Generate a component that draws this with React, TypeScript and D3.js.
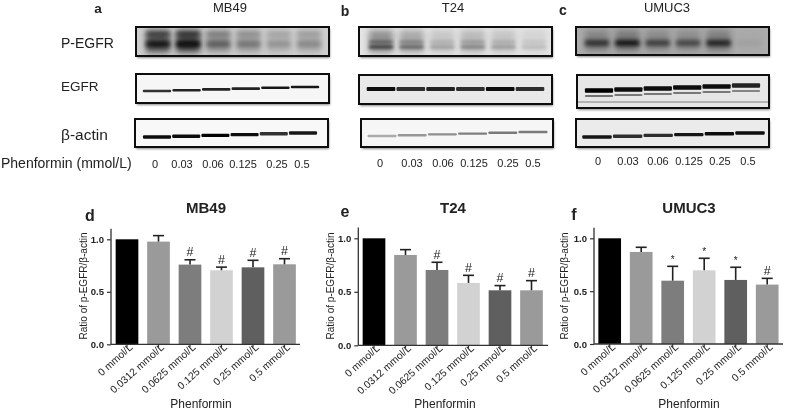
import { useEffect, useRef } from "react";
import * as d3 from "d3";

const FONT = "'Liberation Sans', Arial, sans-serif";

// bar chart values
const doses = ["0 mmol/L", "0.0312 mmol/L", "0.0625 mmol/L", "0.125 mmol/L", "0.25 mmol/L", "0.5 mmol/L"];
const barColors = ["#000000", "#9a9a9a", "#7d7d7d", "#d2d2d2", "#5f5f5f", "#9a9a9a"];

const mb49Means = [1.0, 0.978, 0.759, 0.705, 0.733, 0.762];
const mb49Tops = [1.0, 1.035, 0.805, 0.735, 0.8, 0.815];
const mb49Marks = ["", "", "#", "#", "#", "#"];

const t24Means = [1.0, 0.844, 0.704, 0.583, 0.514, 0.514];
const t24Tops = [1.0, 0.894, 0.776, 0.654, 0.558, 0.604];
const t24Marks = ["", "", "#", "#", "#", "#"];

const umucMeans = [1.0, 0.871, 0.599, 0.697, 0.606, 0.562];
const umucTops = [1.0, 0.915, 0.735, 0.811, 0.726, 0.621];
const umucMarks = ["", "", "*", "*", "*", "#"];

// blot band strength per lane, 0..1
const laneLabels = ["0", "0.03", "0.06", "0.125", "0.25", "0.5"];
const mb49Phospho = [0.85, 0.95, 0.42, 0.32, 0.2, 0.24];
const mb49Egfr = [0.8, 0.85, 0.85, 0.85, 0.9, 0.9];
const mb49Actin = [0.95, 0.95, 1.0, 0.95, 0.8, 0.9];
const t24Phospho = [0.7, 0.5, 0.25, 0.36, 0.26, 0.14];
const t24Egfr = [0.95, 0.8, 0.85, 0.8, 0.95, 0.8];
const t24Actin = [0.3, 0.38, 0.42, 0.48, 0.5, 0.5];
const umucPhospho = [0.7, 0.9, 0.6, 0.55, 0.8, 0.05];
const umucEgfr = [1.0, 0.95, 0.95, 0.95, 0.95, 0.85];
const umucActin = [0.9, 0.8, 0.8, 0.9, 0.95, 0.95];

type Row = { dy: number; h: number; k: number };
type Blot = {
  x0: number; x1: number; y0: number; y1: number; bg: string; values: number[];
  lanes: [number, number]; rise: number; rows: Row[]; smear?: number; blur: string; scratch?: number;
};

const blots: Blot[] = [
  { x0: 136, x1: 329, y0: 27, y1: 56, bg: "#cfcfcf", values: mb49Phospho, lanes: [158, 309], rise: 0, smear: 0.75, blur: "blurWide",
    rows: [{ dy: 7, h: 5, k: 0.5 }, { dy: 17, h: 7, k: 0.9 }] },
  { x0: 136, x1: 329, y0: 74, y1: 103, bg: "#f6f6f6", values: mb49Egfr, lanes: [157, 305], rise: 4, blur: "blurThin",
    rows: [{ dy: 17, h: 2.6, k: 1 }] },
  { x0: 135, x1: 328, y0: 119, y1: 147, bg: "#f8f8f8", values: mb49Actin, lanes: [157, 303], rise: 4, blur: "blurThin",
    rows: [{ dy: 18, h: 3.4, k: 1 }] },
  { x0: 359, x1: 552, y0: 27, y1: 56, bg: "#e4e4e4", values: t24Phospho, lanes: [381, 534], rise: 0, smear: 0.6, blur: "blurMid",
    rows: [{ dy: 15, h: 3, k: 0.55 }, { dy: 20, h: 4, k: 0.75 }] },
  { x0: 359, x1: 552, y0: 75, y1: 104, bg: "#e9e9e9", values: t24Egfr, lanes: [381, 530], rise: 0, blur: "blurThin",
    rows: [{ dy: 14, h: 4, k: 1 }] },
  { x0: 361, x1: 553, y0: 119, y1: 147, bg: "#f6f6f6", values: t24Actin, lanes: [382, 533], rise: 4, blur: "blurThin",
    rows: [{ dy: 17, h: 2.4, k: 1 }] },
  { x0: 576, x1: 769, y0: 27, y1: 55, bg: "#acacac", values: umucPhospho, lanes: [597, 749], rise: 0, smear: 0.4, blur: "blurWide",
    rows: [{ dy: 16, h: 6, k: 0.95 }] },
  { x0: 577, x1: 769, y0: 75, y1: 108, bg: "#e6e6e6", values: umucEgfr, lanes: [599, 746], rise: 5, blur: "blurThin", scratch: 27,
    rows: [{ dy: 15.5, h: 4.5, k: 1 }, { dy: 21, h: 2.2, k: 0.5 }] },
  { x0: 576, x1: 769, y0: 119, y1: 147, bg: "#ebebeb", values: umucActin, lanes: [597, 750], rise: 4, blur: "blurThin",
    rows: [{ dy: 18, h: 3.4, k: 1 }] },
];

const panelTexts = [
  { t: "a", x: 98, y: 12.5, size: 13.5, bold: true, anchor: "middle" },
  { t: "b", x: 345, y: 16, size: 14, bold: true, anchor: "middle" },
  { t: "c", x: 563, y: 15, size: 14, bold: true, anchor: "middle" },
  { t: "MB49", x: 230, y: 12, size: 13, anchor: "middle" },
  { t: "T24", x: 453, y: 12, size: 13, anchor: "middle" },
  { t: "UMUC3", x: 667, y: 12, size: 13, anchor: "middle" },
  { t: "P-EGFR", x: 61, y: 48, size: 14, anchor: "start" },
  { t: "EGFR", x: 61, y: 91, size: 13.5, anchor: "start" },
  { t: "β-actin", x: 61, y: 140, size: 15.5, anchor: "start" },
  { t: "Phenformin (mmol/L)", x: 1, y: 168, size: 14, anchor: "start" },
];

const laneText = [
  { y: 168, xs: [155, 182, 213, 243, 277, 302] },
  { y: 167, xs: [380, 412, 443, 474, 508, 533] },
  { y: 165, xs: [598, 628, 658, 689, 720, 748] },
];

const charts = [
  { title: "MB49", letter: "d", means: mb49Means, tops: mb49Tops, marks: mb49Marks, axisX: 111, endX: 300, y0: 344.3, y1: 239.3, first: 127, titleX: 206, letterX: 90, letterY: 221, labelX: 87, nameX: 201 },
  { title: "T24", letter: "e", means: t24Means, tops: t24Tops, marks: t24Marks, axisX: 358.3, endX: 548, y0: 345.3, y1: 238.3, first: 374, titleX: 453, letterX: 345, letterY: 217, labelX: 334, nameX: 445 },
  { title: "UMUC3", letter: "f", means: umucMeans, tops: umucTops, marks: umucMarks, axisX: 594, endX: 783, y0: 344, y1: 238.3, first: 609.7, titleX: 689, letterX: 574, letterY: 220, labelX: 568, nameX: 689 },
];

const App = () => {
  const ref = useRef<SVGSVGElement>(null);

  useEffect(() => {
    const root = d3.select(ref.current).html("");
    const defs = root.append("defs");
    [["blurThin", 0.7], ["blurMid", 1.5], ["blurWide", 2], ["smear", 3], ["shadow", 1.2]].forEach(([id, sd]) => {
      defs.append("filter").attr("id", id as string)
        .attr("x", "-30%").attr("y", "-100%").attr("width", "160%").attr("height", "300%")
        .append("feGaussianBlur").attr("stdDeviation", sd as number);
    });
    // the source is a soft jpeg, so everything gets a slight blur
    defs.append("filter").attr("id", "page")
      .attr("filterUnits", "userSpaceOnUse").attr("x", 0).attr("y", 0).attr("width", 785).attr("height", 411)
      .append("feGaussianBlur").attr("stdDeviation", 0.3);
    const svg = root.append("g").attr("filter", "url(#page)");

    // western blot strips
    const strength = d3.scaleLinear().domain([0, 1]).range([0, 1]);
    blots.forEach((b, i) => {
      defs.append("clipPath").attr("id", `clip${i}`).append("rect")
        .attr("x", b.x0).attr("y", b.y0).attr("width", b.x1 - b.x0).attr("height", b.y1 - b.y0);
      svg.append("rect").attr("x", b.x0 + 1).attr("y", b.y0 + 2)
        .attr("width", b.x1 - b.x0).attr("height", b.y1 - b.y0)
        .attr("fill", "#888").attr("filter", "url(#shadow)");
      svg.append("rect").attr("x", b.x0).attr("y", b.y0)
        .attr("width", b.x1 - b.x0).attr("height", b.y1 - b.y0).attr("fill", b.bg);

      const g = svg.append("g").attr("clip-path", `url(#clip${i})`);
      const laneX = d3.scalePoint().domain(laneLabels).range(b.lanes);
      const laneW = (b.lanes[1] - b.lanes[0]) / 5;
      const tilt = d3.scaleLinear().domain(b.lanes).range([0, -b.rise]);
      if (b.smear) {
        g.selectAll(".smear").data(b.values).join("rect")
          .attr("x", (_, j) => laneX(laneLabels[j])! - laneW * 0.4)
          .attr("y", b.y0 + 3)
          .attr("width", laneW * 0.8)
          .attr("height", b.y1 - b.y0 - 6)
          .attr("fill", "#222")
          .attr("opacity", (d) => strength(d) * b.smear!)
          .attr("filter", "url(#smear)");
      }
      const bandW = b.smear ? 0.8 : 0.96;
      b.rows.forEach((row) => {
        g.selectAll(".band").data(b.values).join("rect")
          .attr("x", (_, j) => laneX(laneLabels[j])! - laneW * bandW / 2)
          .attr("y", (_, j) => b.y0 + row.dy - row.h / 2 + tilt(laneX(laneLabels[j])!))
          .attr("width", laneW * bandW)
          .attr("height", row.h)
          .attr("rx", 1)
          .attr("fill", "#000")
          .attr("opacity", (d) => strength(d) * row.k)
          .attr("filter", `url(#${b.blur})`);
      });
      if (b.scratch) {
        g.append("line").attr("x1", b.x0).attr("x2", b.x1)
          .attr("y1", b.y0 + b.scratch).attr("y2", b.y0 + b.scratch)
          .attr("stroke", "#666").attr("stroke-width", 0.8);
      }
      svg.append("rect").attr("x", b.x0).attr("y", b.y0)
        .attr("width", b.x1 - b.x0).attr("height", b.y1 - b.y0)
        .attr("fill", "none").attr("stroke", "#0c0c0c").attr("stroke-width", 2);
    });

    // labels round the blots
    panelTexts.forEach((p) => {
      svg.append("text").attr("x", p.x).attr("y", p.y).text(p.t)
        .attr("font-size", p.size).attr("text-anchor", p.anchor)
        .attr("font-weight", p.bold ? "bold" : "normal").attr("fill", "#222");
    });
    laneText.forEach((row) => {
      laneLabels.forEach((l, j) => {
        svg.append("text").attr("x", row.xs[j]).attr("y", row.y).text(l)
          .attr("font-size", 11).attr("text-anchor", "middle").attr("fill", "#222");
      });
    });

    // bar charts
    charts.forEach((c) => {
      const step = 31.5;
      const x = d3.scaleBand().domain(doses)
        .range([c.first - step / 2, c.first + step * 5.5]).paddingInner(0.28).paddingOuter(0.14);
      const y = d3.scaleLinear().domain([0, 1]).range([c.y0, c.y1]);
      const g = svg.append("g");

      g.selectAll(".bar").data(c.means).join("rect")
        .attr("x", (_, i) => x(doses[i])!)
        .attr("y", (d) => y(d))
        .attr("width", x.bandwidth())
        .attr("height", (d) => c.y0 - y(d))
        .attr("fill", (_, i) => barColors[i]);

      const cx = (i: number) => x(doses[i])! + x.bandwidth() / 2;
      c.tops.forEach((top, i) => {
        if (top <= c.means[i]) return;
        g.append("line").attr("x1", cx(i)).attr("x2", cx(i)).attr("y1", y(c.means[i])).attr("y2", y(top))
          .attr("stroke", "#222").attr("stroke-width", 1.6);
        g.append("line").attr("x1", cx(i) - 5.5).attr("x2", cx(i) + 5.5).attr("y1", y(top)).attr("y2", y(top))
          .attr("stroke", "#222").attr("stroke-width", 1.6);
        if (c.marks[i]) {
          g.append("text").attr("x", cx(i)).attr("y", y(top) - 3.5).text(c.marks[i])
            .attr("text-anchor", "middle").attr("font-size", c.marks[i] === "#" ? 12.5 : 10).attr("fill", "#222");
        }
      });

      const yAxis = g.append("g").attr("transform", `translate(${c.axisX},0)`)
        .call(d3.axisLeft(y).tickValues([0, 0.5, 1]).tickFormat(d3.format(".1f")).tickSize(4));
      yAxis.select(".domain").attr("d", `M0,${c.y0}V${y(1.1)}`).attr("stroke", "#333").attr("stroke-width", 1.3);
      yAxis.selectAll("line").attr("stroke", "#333").attr("stroke-width", 1.2);
      yAxis.selectAll("text").attr("font-size", 9.5).attr("font-weight", "bold").attr("font-family", FONT).attr("fill", "#222");

      const xAxis = g.append("g").attr("transform", `translate(0,${c.y0})`)
        .call(d3.axisBottom(x).tickSize(3));
      xAxis.select(".domain").attr("d", `M${c.axisX},0H${c.endX}`).attr("stroke", "#333").attr("stroke-width", 1.3);
      xAxis.selectAll("line").attr("stroke", "#333").attr("stroke-width", 1.2);
      xAxis.selectAll("text")
        .attr("font-size", 10.3).attr("font-family", FONT).attr("fill", "#222")
        .style("text-anchor", "end")
        .attr("dx", "0.2em").attr("dy", "0.1em")
        .attr("transform", "rotate(-42)");

      g.append("text").attr("x", c.titleX).attr("y", 213).text(c.title)
        .attr("text-anchor", "middle").attr("font-size", 15).attr("font-weight", "bold").attr("fill", "#222");
      g.append("text").attr("x", c.letterX).attr("y", c.letterY).text(c.letter)
        .attr("text-anchor", "middle").attr("font-size", 16).attr("font-weight", "bold").attr("fill", "#222");
      g.append("text").attr("transform", `translate(${c.labelX},286) rotate(-90)`).text("Ratio of p-EGFR/β-actin")
        .attr("text-anchor", "middle").attr("font-size", 10).attr("fill", "#222");
      g.append("text").attr("x", c.nameX).attr("y", 408).text("Phenformin")
        .attr("text-anchor", "middle").attr("font-size", 12).attr("fill", "#222");
    });
  }, []);

  return (
    <svg
      ref={ref}
      width={785}
      height={411}
      fontFamily={FONT}
      style={{ position: "absolute", left: 0, top: 0, background: "#fff" }}
    />
  );
};

export default App;
